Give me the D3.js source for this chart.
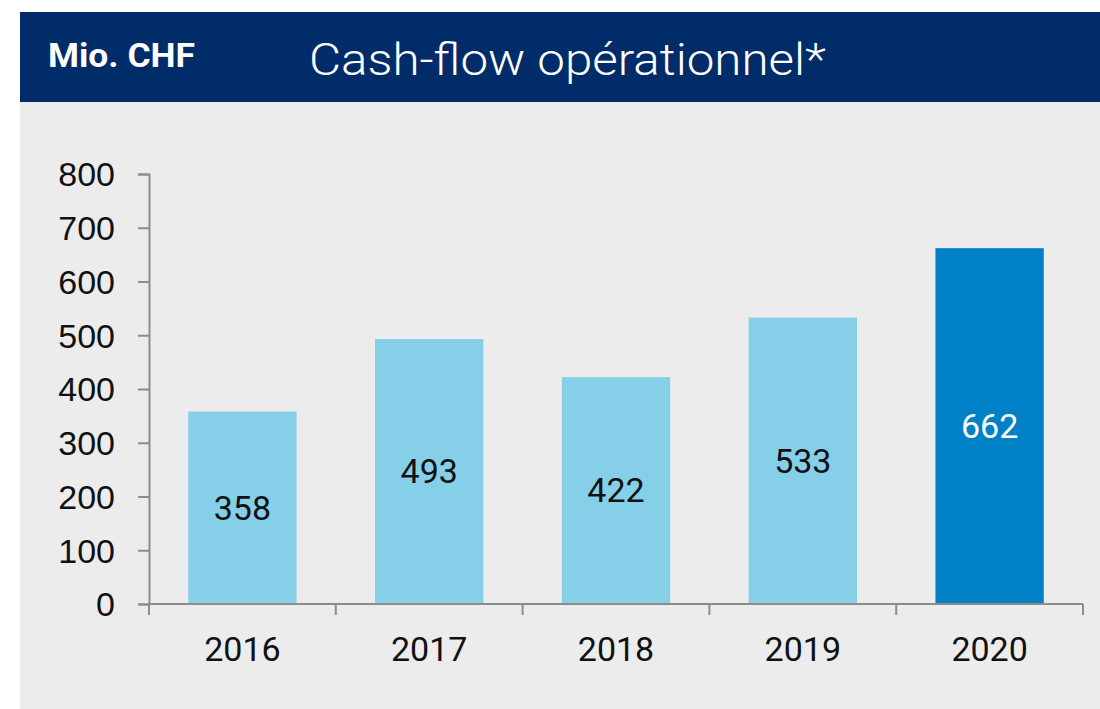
<!DOCTYPE html>
<html>
<head>
<meta charset="utf-8">
<script src="https://cdn.jsdelivr.net/npm/d3@7"></script>
<style>
  body { margin: 0; background: #ffffff; }
  svg { display: block; font-family: Roboto, 'Open Sans', sans-serif; }
  .axis path, .axis line { stroke: #8c8c8c; stroke-width: 2; }
  .axis text { fill: #111111; font-size: 34px; }
</style>
</head>
<body>
<svg id="chart" width="1100" height="709"></svg>
<script>
const years = ['2016', '2017', '2018', '2019', '2020']
const cashFlow = [358, 493, 422, 533, 662]
const yTicks = [0, 100, 200, 300, 400, 500, 600, 700, 800]
const unitLabel = 'Mio. CHF'
const titleText = 'Cash-flow opérationnel*'

const svg = d3.select('#chart')
const width = 1100
const margin = { left: 149, right: 17, top: 174, bottom: 105 }

// background panels
svg.append('rect').attr('x', 20).attr('y', 102).attr('width', width - 20).attr('height', 607).attr('fill', '#ececec')
svg.append('rect').attr('x', 20).attr('y', 12).attr('width', width - 20).attr('height', 90).attr('fill', '#002c69')

svg.append('text')
  .attr('x', 48).attr('y', 67)
  .attr('fill', '#ffffff')
  .attr('font-size', 34)
  .attr('font-weight', 700)
  .attr('textLength', 147)
  .attr('lengthAdjust', 'spacingAndGlyphs')
  .text(unitLabel)

svg.append('text')
  .attr('x', 309).attr('y', 75)
  .attr('fill', '#ffffff')
  .attr('font-size', 45)
  .attr('font-weight', 300)
  .attr('textLength', 517)
  .attr('lengthAdjust', 'spacingAndGlyphs')
  .text(titleText)

const x = d3.scaleBand()
  .domain(years)
  .range([margin.left, width - margin.right])
  .paddingInner(0.42)
  .paddingOuter(0.21)

const y = d3.scaleLinear()
  .domain([0, 800])
  .range([709 - margin.bottom, margin.top])

// bars
svg.append('g')
  .selectAll('rect')
  .data(cashFlow)
  .join('rect')
  .attr('x', (d, i) => x(years[i]))
  .attr('y', d => y(d))
  .attr('width', x.bandwidth())
  .attr('height', d => y(0) - y(d))
  .attr('fill', (d, i) => i === years.length - 1 ? '#0080c6' : '#86cfe8')

// value labels, centered in each bar
svg.append('g')
  .selectAll('text')
  .data(cashFlow)
  .join('text')
  .attr('x', (d, i) => x(years[i]) + x.bandwidth() / 2)
  .attr('y', d => (y(d) + y(0)) / 2)
  .attr('dy', '0.35em')
  .attr('text-anchor', 'middle')
  .attr('font-size', 34)
  .attr('fill', (d, i) => i === years.length - 1 ? '#ffffff' : '#111111')
  .text(d => d)

// y axis
const yAxis = svg.append('g')
  .attr('class', 'axis')
  .attr('transform', `translate(${margin.left}, 0)`)
  .call(d3.axisLeft(y).tickValues(yTicks).tickSize(11).tickSizeOuter(11).tickPadding(23))
yAxis.selectAll('text').attr('dy', '0.35em')

// x axis with ticks at category boundaries
const step = x.step()
const boundaries = d3.range(years.length + 1).map(i => margin.left + i * step)
const xAxis = svg.append('g').attr('class', 'axis')
xAxis.append('line')
  .attr('x1', margin.left).attr('x2', width - margin.right)
  .attr('y1', y(0)).attr('y2', y(0))
xAxis.selectAll('line.tick')
  .data(boundaries)
  .join('line')
  .attr('class', 'tick')
  .attr('x1', d => d).attr('x2', d => d)
  .attr('y1', y(0)).attr('y2', y(0) + 11)
xAxis.selectAll('text')
  .data(years)
  .join('text')
  .attr('x', d => x(d) + x.bandwidth() / 2)
  .attr('y', y(0) + 45)
  .attr('dy', '0.35em')
  .attr('text-anchor', 'middle')
  .text(d => d)
</script>
</body>
</html>
